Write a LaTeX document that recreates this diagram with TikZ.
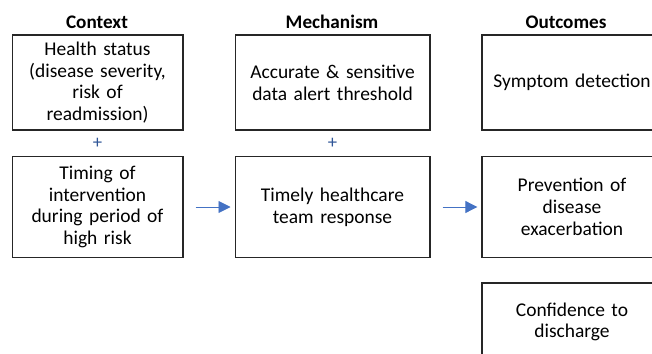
\documentclass[tikz,border=0pt]{standalone}
\usepackage{fontspec}
\setmainfont{Carlito}
\usetikzlibrary{arrows.meta}
\definecolor{arrowblue}{HTML}{4472C4}
\definecolor{plusblue}{HTML}{2F5597}
\tikzset{
  box/.style={draw=black!85, line width=1pt, inner sep=0pt, align=center,
    font=\fontsize{14.6}{16.3}\selectfont},
  title/.style={font=\fontsize{14.4}{16}\selectfont\bfseries},
  plus/.style={text=plusblue, font=\fontsize{14}{16}\selectfont},
  flow/.style={arrowblue, line width=0.65pt, -{Triangle[length=9pt,width=9pt]},
    shorten <=9pt, shorten >=3pt}
}
\begin{document}
\begin{tikzpicture}[x=0.75pt,y=-0.75pt]
        \clip (0,0) rectangle (652,353);
        \fill[white] (0,0) rectangle (652,353);
        % titles
        \node[title] (tctx) at (97,22) {Context};
        \node[title] (tmech) at (332,22) {Mechanism};
        \node[title] (tout) at (566,22) {Outcomes};
        % context
        \node[box,minimum width=128pt,minimum height=71pt,text width=124pt] (ctx1) at (97.5,82.5)
            {Health status\\(disease severity,\\risk of\\readmission)};
        \node[plus] (p1) at (97.5,143) {+};
        \node[box,minimum width=128pt,minimum height=76pt,text width=124pt] (ctx2) at (97.5,207)
            {Timing of\\intervention\\during period of\\high risk};
        % mechanism
        \node[box,minimum width=146pt,minimum height=71pt,text width=142pt] (mech1) at (332.5,82.5)
            {Accurate \& sensitive\\data alert threshold};
        \node[plus] (p2) at (332.5,143) {+};
        \node[box,minimum width=146pt,minimum height=76pt,text width=142pt] (mech2) at (332.5,207)
            {Timely healthcare\\team response};
        % outcomes
        \node[box,minimum width=135pt,minimum height=71pt,text width=132pt] (out1) at (572,82.5)
            {Symptom detection};
        \node[box,minimum width=135pt,minimum height=76pt,text width=132pt] (out2) at (572,207)
            {Prevention of\\disease\\exacerbation};
        \draw[draw=black!85, line width=1pt] (482,283) rectangle (662,383);
        \node[box,draw=none,text width=132pt] (out3) at (572,322)
            {Confidence to\\discharge};
        % arrows
        \draw[flow] (ctx2.east) -- (mech2.west);
        \draw[flow] (mech2.east) -- (out2.west);
    \end{tikzpicture}
\end{document}
